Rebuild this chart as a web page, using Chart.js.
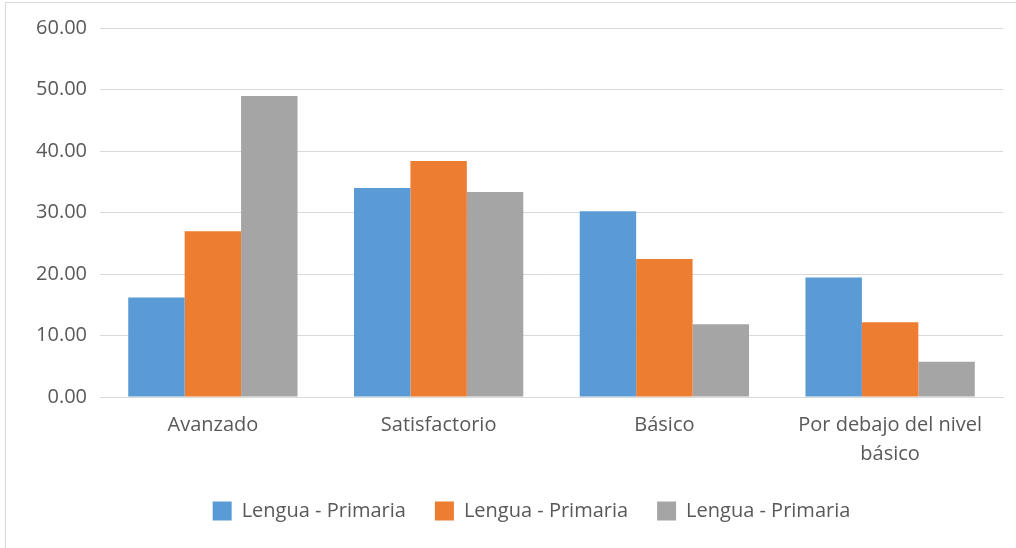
<!DOCTYPE html>
<html>
<head>
<meta charset="utf-8">
<script src="https://cdn.jsdelivr.net/npm/chart.js@4/dist/chart.umd.min.js"></script>
<style>
  html, body { margin: 0; padding: 0; background: #fff; }
  #wrap { position: relative; width: 1016px; height: 548px; overflow: hidden; }
  #frame { position: absolute; left: 5px; top: 2px; width: 1030px; height: 560px;
           border-left: 1px solid #d9d9d9; border-top: 1px solid #d9d9d9; }
  canvas { position: absolute; left: 0; top: 0; }
</style>
</head>
<body>
<div id="wrap">
  <div id="frame"></div>
  <canvas id="chart" width="1016" height="548"></canvas>
</div>
<script>
// categories and values
const categories = ['Avanzado', 'Satisfactorio', 'Básico', ['Por debajo del nivel', 'básico']];
const seriesNames = ['Lengua - Primaria', 'Lengua - Primaria', 'Lengua - Primaria'];
const serie1 = [16.17, 33.97, 30.21, 19.44];
const serie2 = [26.95, 38.38, 22.44, 12.15];
const serie3 = [48.95, 33.32, 11.82, 5.72];
const colors = ['#5B9BD5', '#ED7D31', '#A5A5A5'];
const yTicks = [0, 10, 20, 30, 40, 50, 60];

const textColor = '#595959';
const fontFamily = '"Open Sans", "DejaVu Sans", sans-serif';

// the legend in the original sits a bit right of the centre and a bit higher
const legendShift = {
    id: 'legendShift',
    afterLayout(chart) {
        const lg = chart.legend;
        if (!lg) return;
        lg.left += 30;
        lg.right += 30;
        lg.top -= 3;
        lg.bottom -= 3;
        lg.adjustHitBoxes();
    }
};

const ctx = document.getElementById('chart').getContext('2d');

new Chart(ctx, {
    type: 'bar',
    data: {
        labels: categories,
        datasets: [serie1, serie2, serie3].map((vals, i) => ({
            label: seriesNames[i],
            data: vals,
            backgroundColor: colors[i],
            borderWidth: 0,
            barPercentage: 1,
            categoryPercentage: 0.75
        }))
    },
    options: {
        responsive: false,
        animation: false,
        layout: {
            padding: { top: 28, right: 13, left: 0, bottom: 14 }
        },
        scales: {
            x: {
                grid: { display: false },
                border: { color: '#d9d9d9', width: 1 },
                ticks: {
                    color: textColor,
                    font: { family: fontFamily, size: 20, lineHeight: 1.45 },
                    maxRotation: 0,
                    padding: 6
                }
            },
            y: {
                min: 0,
                max: 60,
                afterFit: function(scale) { scale.width = 100; },
                afterBuildTicks: function(scale) {
                    scale.ticks = yTicks.map(v => ({ value: v }));
                },
                grid: { color: '#d9d9d9', lineWidth: 1, drawTicks: false },
                border: { display: false },
                ticks: {
                    color: textColor,
                    font: { family: fontFamily, size: 20 },
                    padding: 13,
                    callback: v => v.toFixed(2)
                }
            }
        },
        plugins: {
            legend: {
                position: 'bottom',
                labels: {
                    boxWidth: 19,
                    boxHeight: 19,
                    padding: 29,
                    color: textColor,
                    font: { family: fontFamily, size: 20 }
                }
            },
            tooltip: { enabled: false }
        }
    },
    plugins: [legendShift]
});
</script>
</body>
</html>
